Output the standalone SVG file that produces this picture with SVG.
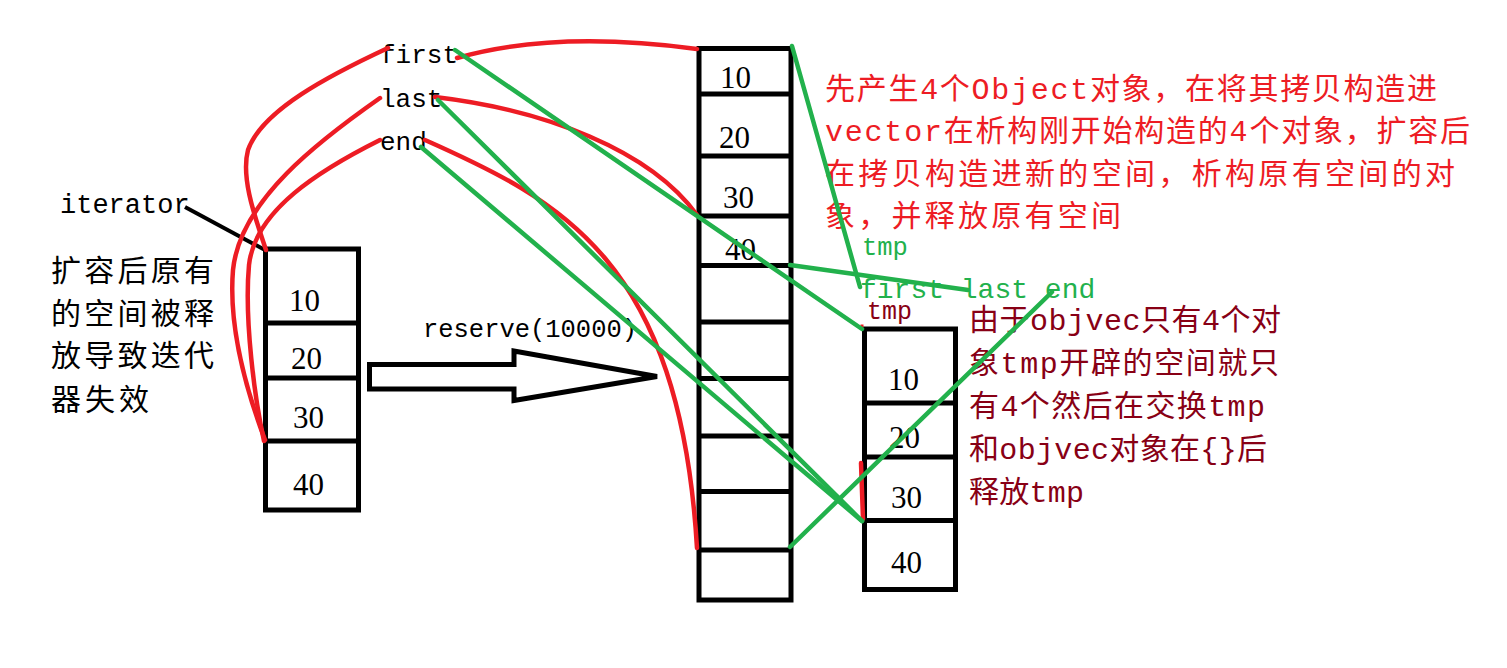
<svg xmlns="http://www.w3.org/2000/svg" width="1507" height="668" viewBox="0 0 1507 668">
<style>
.box{fill:none;stroke:#000;stroke-width:5}
.div{stroke:#000;stroke-width:5}
.num{font-family:"Liberation Serif","Times New Roman",serif;font-size:31px;fill:#000}
.mono{font-family:"Liberation Mono","Courier New",monospace;font-size:26px;fill:#000}
.cjk{font-family:"Liberation Mono","Noto Sans CJK SC",sans-serif;font-size:30px}
.red{stroke:#ed1c24;stroke-width:4.5;fill:none;stroke-linecap:round}
.grn{stroke:#22b14c;stroke-width:4.5;fill:none;stroke-linecap:round}
</style>
<rect width="1507" height="668" fill="#fff"/>

<g id="old-vector">
<rect class="box" x="265.5" y="249" width="93" height="261"/>
<line class="div" x1="265.5" y1="323" x2="358.5" y2="323"/>
<line class="div" x1="265.5" y1="378" x2="358.5" y2="378"/>
<line class="div" x1="265.5" y1="441" x2="358.5" y2="441"/>
<text class="num" x="289" y="311">10</text>
<text class="num" x="291" y="369">20</text>
<text class="num" x="293" y="428">30</text>
<text class="num" x="293" y="495">40</text>
</g>

<g id="new-vector">
<rect class="box" x="699" y="48.5" width="92" height="551.5"/>
<line class="div" x1="699" y1="94" x2="791" y2="94"/>
<line class="div" x1="699" y1="156" x2="791" y2="156"/>
<line class="div" x1="699" y1="216" x2="791" y2="216"/>
<line class="div" x1="699" y1="265.5" x2="791" y2="265.5"/>
<line class="div" x1="699" y1="322" x2="791" y2="322"/>
<line class="div" x1="699" y1="378.5" x2="791" y2="378.5"/>
<line class="div" x1="699" y1="436" x2="791" y2="436"/>
<line class="div" x1="699" y1="491.5" x2="791" y2="491.5"/>
<line class="div" x1="699" y1="550" x2="791" y2="550"/>
<text class="num" x="720" y="88">10</text>
<text class="num" x="719" y="148">20</text>
<text class="num" x="723" y="208">30</text>
<text class="num" x="725" y="260">40</text>
</g>

<g id="tmp-vector">
<rect class="box" x="864.5" y="329" width="91" height="260.5"/>
<line class="div" x1="864.5" y1="403" x2="955.5" y2="403"/>
<line class="div" x1="864.5" y1="457" x2="955.5" y2="457"/>
<line class="div" x1="864.5" y1="520.5" x2="955.5" y2="520.5"/>
<text class="num" x="888" y="390">10</text>
<text class="num" x="889" y="448">20</text>
<text class="num" x="891" y="508">30</text>
<text class="num" x="891" y="573">40</text>
</g>

<g id="reserve-arrow">
<path d="M369.5,364.5 L514,364.5 L514,351 L657,376.5 L514,400.5 L514,389 L369.5,389 Z" fill="#fff" stroke="#000" stroke-width="5" stroke-linejoin="miter"/>
<text class="mono" x="423" y="337" textLength="214" lengthAdjust="spacingAndGlyphs">reserve(10000)</text>
</g>

<g id="labels">
<text class="mono" x="380" y="63">first</text>
<text class="mono" x="380" y="107">last</text>
<text class="mono" x="380" y="150">end</text>
<text class="mono" x="60" y="213" style="font-size:27px">iterator</text>
<text class="mono" x="862" y="255" style="font-size:25.5px;fill:#22b14c">tmp</text>
<text class="mono" x="860" y="297.5" style="font-size:28px;fill:#22b14c">first last end</text>
<text class="mono" x="867" y="319" style="font-size:25px;fill:#880015">tmp</text>
</g>

<g id="note-left" class="cjk" fill="#000">
<text x="51" y="281" textLength="163">扩容后原有</text>
<text x="51" y="324" textLength="163">的空间被释</text>
<text x="51" y="366" textLength="163">放导致迭代</text>
<text x="51" y="410" textLength="98">器失效</text>
</g>

<g id="note-red" class="cjk" fill="#ed1c24">
<text x="825" y="99" textLength="612">先产生4个Object对象，在将其拷贝构造进</text>
<text x="825" y="141" textLength="645">vector在析构刚开始构造的4个对象，扩容后</text>
<text x="825" y="184" textLength="630">在拷贝构造进新的空间，析构原有空间的对</text>
<text x="825" y="226" textLength="296">象，并释放原有空间</text>
</g>

<g id="note-darkred" class="cjk" fill="#880015">
<text x="969" y="330" textLength="312">由于objvec只有4个对</text>
<text x="969" y="373" textLength="310">象tmp开辟的空间就只</text>
<text x="969" y="416" textLength="296">有4个然后在交换tmp</text>
<text x="969" y="459" textLength="298">和objvec对象在{}后</text>
<text x="969" y="502" textLength="115">释放tmp</text>
</g>

<g id="connectors">
<line x1="185" y1="207" x2="265" y2="250" stroke="#000" stroke-width="4"/>
<path class="red" d="M388,48 C330,75 262,110 248,150 C240,180 258,225 266,250"/>
<path class="red" d="M380,98 C320,140 240,200 233,270 C228,330 250,400 265,440"/>
<path class="red" d="M380,140 C320,170 255,210 249,265 C244,320 255,400 264,441"/>
<path class="red" d="M457,58 C520,40 600,36 697,49"/>
<path class="red" d="M435,97 C545,110 650,150 697,215"/>
<path class="red" d="M425,140 C560,200 680,260 697,548"/>
<path class="red" d="M861,463 L863,519"/>
<rect x="860.5" y="324.5" width="3" height="3" fill="#ed1c24"/>
<line class="grn" x1="455" y1="50" x2="862" y2="329"/>
<line class="grn" x1="438" y1="100" x2="862" y2="521"/>
<line class="grn" x1="421" y1="147" x2="862" y2="521"/>
<line class="grn" x1="792" y1="46" x2="860" y2="287"/>
<line class="grn" x1="790" y1="265" x2="968" y2="290"/>
<line class="grn" x1="790" y1="547" x2="1052" y2="292"/>
</g>
</svg>
